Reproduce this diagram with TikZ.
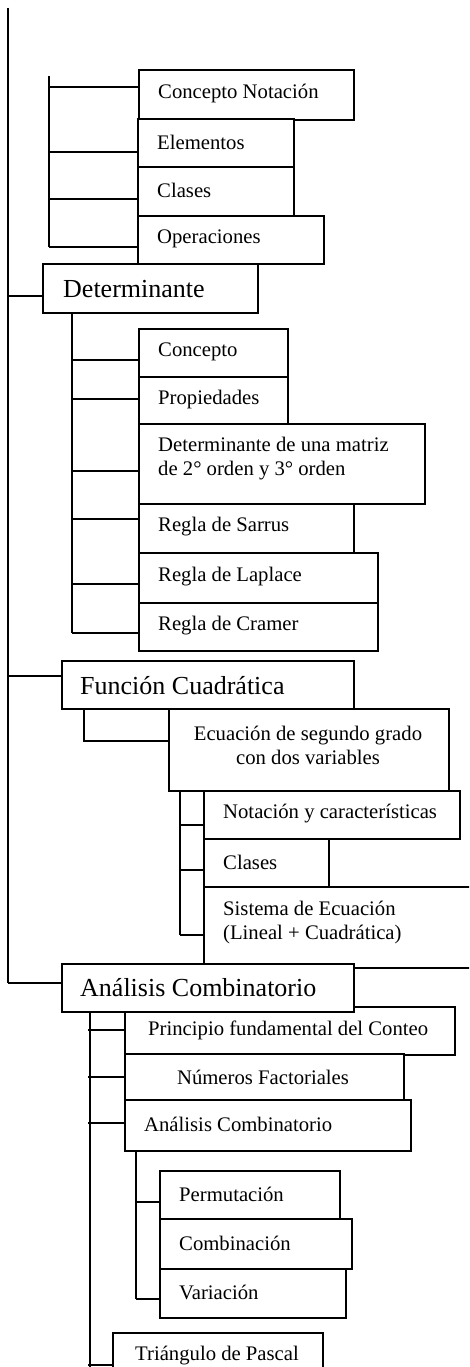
\documentclass[tikz,border=0pt]{standalone}
\usepackage{fontspec}
\setmainfont{Liberation Serif}
\newcommand{\myfs}{\fontsize{20.7}{24}\selectfont}
\newcommand{\myfb}{\fontsize{26}{30}\selectfont}
\pgfdeclarelayer{background}
\pgfsetlayers{background,main}
\tikzset{
  boxst/.style={draw, fill=white, line width=1.6pt, inner sep=0pt, anchor=north west},
  txt/.style={anchor=west, inner sep=0pt, align=left, font=\myfs},
  ctxt/.style={anchor=center, inner sep=0pt, align=center, font=\myfs},
  bigtxt/.style={anchor=west, inner sep=0pt, font=\myfb},
  ln/.style={line width=1.6pt},
}
\begin{document}
\begin{tikzpicture}[x=1pt,y=-1pt]
\useasboundingbox (0,0) rectangle (469,1367);
\clip (0,0) rectangle (469,1367);
% ---------- boxes ----------
\node[boxst, minimum width=215pt, minimum height=50pt] (cn) at (138,69) {};
\node[txt] (cnt) at (158,94) {Concepto Notación};
\node[boxst, minimum width=156pt, minimum height=48pt] (el) at (137,118) {};
\node[txt] (elt) at (157,142) {Elementos};
\node[boxst, minimum width=156pt, minimum height=49pt] (cla) at (137,166) {};
\node[txt] (clat) at (157,190) {Clases};
\node[boxst, minimum width=186pt, minimum height=48pt] (op) at (137,215) {};
\node[txt] (opt) at (157,239) {Operaciones};
\node[boxst, minimum width=215pt, minimum height=49pt] (det) at (42,263) {};
\node[bigtxt] (dett) at (63,289) {Determinante};
\node[boxst, minimum width=149pt, minimum height=48pt] (co) at (138,328) {};
\node[txt] (cot) at (158,352) {Concepto};
\node[boxst, minimum width=149pt, minimum height=48pt] (pr) at (138,376) {};
\node[txt] (prt) at (158,400) {Propiedades};
\node[boxst, minimum width=286pt, minimum height=80pt] (dm) at (138,423) {};
\node[txt] (dmt) at (158,459) {Determinante de una matriz\\de 2° orden y 3° orden};
\node[boxst, minimum width=215pt, minimum height=49pt] (sa) at (138,503) {};
\node[txt] (sat) at (158,527) {Regla de Sarrus};
\node[boxst, minimum width=239pt, minimum height=50pt] (la) at (138,552) {};
\node[txt] (lat) at (158,577) {Regla de Laplace};
\node[boxst, minimum width=239pt, minimum height=48pt] (cr) at (138,602) {};
\node[txt] (crt) at (158,626) {Regla de Cramer};
\node[boxst, minimum width=292pt, minimum height=48pt] (fu) at (61,660) {};
\node[bigtxt] (fut) at (80,686) {Función Cuadrática};
\node[boxst, minimum width=280pt, minimum height=82pt] (ec) at (168,708) {};
\node[ctxt] (ect) at (308,745) {Ecuación de segundo grado\\con dos variables};
\node[boxst, minimum width=256pt, minimum height=48pt] (no) at (203,790) {};
\node[txt] (not) at (223,814) {Notación y características};
\node[boxst, minimum width=125pt, minimum height=48pt] (clb) at (203,838) {};
\node[txt] (clbt) at (223,862) {Clases};
\node[boxst, minimum width=290pt, minimum height=81pt] (si) at (203,886) {};
\node[txt] (sit) at (223,922) {Sistema de Ecuación\\(Lineal + Cuadrática)};
\node[boxst, minimum width=330pt, minimum height=48pt] (pf) at (124,1006) {};
\node[txt] (pft) at (148,1030) {Principio fundamental del Conteo};
\node[boxst, minimum width=292pt, minimum height=48pt] (an) at (61,963) {};
\node[bigtxt] (ant) at (80,988) {Análisis Combinatorio};
\node[boxst, minimum width=279pt, minimum height=46pt] (nf) at (124,1053) {};
\node[ctxt] (nft) at (263,1077) {Números Factoriales};
\node[boxst, minimum width=286pt, minimum height=51pt] (ac) at (124,1099) {};
\node[txt] (act) at (144,1124) {Análisis Combinatorio};
\node[boxst, minimum width=180pt, minimum height=48pt] (pe) at (159,1170) {};
\node[txt] (pet) at (179,1194) {Permutación};
\node[boxst, minimum width=192pt, minimum height=50pt] (cb) at (159,1218) {};
\node[txt] (cbt) at (179,1243) {Combinación};
\node[boxst, minimum width=186pt, minimum height=49pt] (va) at (159,1268) {};
\node[txt] (vat) at (179,1292) {Variación};
\node[boxst, minimum width=210pt, minimum height=48pt] (tp) at (112,1332) {};
\node[txt] (tpt) at (135,1356) {Triángulo de Pascal};
% ---------- trunk coordinates ----------
\coordinate (mT) at (8,8);      \coordinate (mB) at (8,983);
\coordinate (m1) at (8,296);    \coordinate (m2) at (8,676);
\coordinate (aT) at (49,76);    \coordinate (a1) at (49,87);
\coordinate (a2) at (49,152);   \coordinate (a3) at (49,199);
\coordinate (a4) at (49,247);
\coordinate (bT) at (72,312);   \coordinate (b1) at (72,360);
\coordinate (b2) at (72,399);   \coordinate (b3) at (72,471);
\coordinate (b4) at (72,519);   \coordinate (b5) at (72,584);
\coordinate (b6) at (72,633);
\coordinate (fT) at (84,708);   \coordinate (f1) at (84,741);
\coordinate (cT) at (180,790);  \coordinate (c1) at (180,825);
\coordinate (c2) at (180,870);  \coordinate (c3) at (180,935);
\coordinate (dT) at (90,1011);  \coordinate (dB) at (90,1375);
\coordinate (d1) at (88,1030);  \coordinate (d2) at (88,1077);
\coordinate (d3) at (88,1123);  \coordinate (d4) at (88,1365);
\coordinate (eT) at (136,1150); \coordinate (e1) at (136,1202);
\coordinate (e2) at (136,1299);
% ---------- connectors (behind the boxes) ----------
\begin{pgfonlayer}{background}
\draw[ln] (mT) -- (mB);
\draw[ln] (m1) -- (m1 -| det.west);
\draw[ln] (m2) -- (m2 -| fu.west);
\draw[ln] (mB) -- (mB -| an.west);
\draw[ln] (aT) -- (a4);
\draw[ln] (a1) -- (a1 -| cn.west);
\draw[ln] (a2) -- (a2 -| el.west);
\draw[ln] (a3) -- (a3 -| cla.west);
\draw[ln] (a4) -- (a4 -| op.west);
\draw[ln] (bT) -- (b6);
\draw[ln] (b1) -- (b1 -| co.west);
\draw[ln] (b2) -- (b2 -| pr.west);
\draw[ln] (b3) -- (b3 -| dm.west);
\draw[ln] (b4) -- (b4 -| sa.west);
\draw[ln] (b5) -- (b5 -| la.west);
\draw[ln] (b6) -- (b6 -| cr.west);
\draw[ln] (fT) -- (f1) -- (f1 -| ec.west);
\draw[ln] (cT) -- (c3);
\draw[ln] (c1) -- (c1 -| no.west);
\draw[ln] (c2) -- (c2 -| clb.west);
\draw[ln] (c3) -- (c3 -| si.west);
\draw[ln] (dT) -- (dB);
\draw[ln] (d1) -- (d1 -| pf.west);
\draw[ln] (d2) -- (d2 -| nf.west);
\draw[ln] (d3) -- (d3 -| ac.west);
\draw[ln] (d4) -- (d4 -| tp.west);
\draw[ln] (eT) -- (e2);
\draw[ln] (e1) -- (e1 -| pe.west);
\draw[ln] (e2) -- (e2 -| va.west);
\end{pgfonlayer}
\end{tikzpicture}
\end{document}
